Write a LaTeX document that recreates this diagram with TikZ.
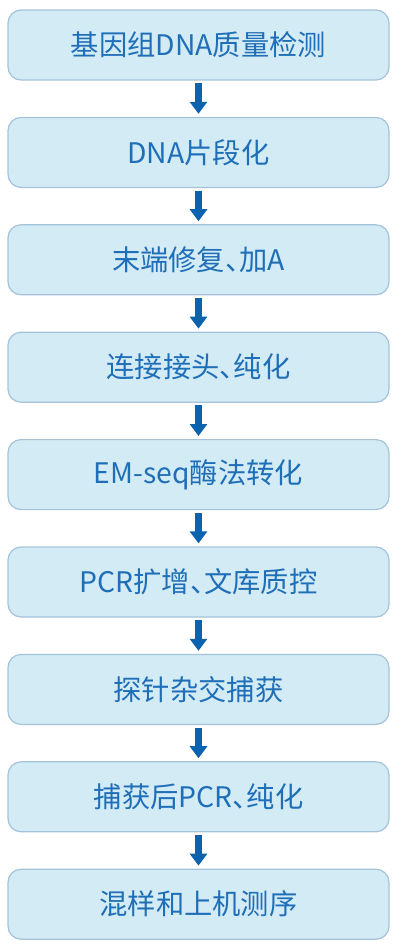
\documentclass[tikz,border=0pt]{standalone}
\usepackage{fontspec}
\setmainfont{Noto Sans CJK SC}
\usetikzlibrary{arrows.meta}
\definecolor{boxfill}{HTML}{D3EBF5}
\definecolor{boxline}{HTML}{A4C3DA}
\definecolor{txt}{HTML}{1E6EB8}
\definecolor{arr}{HTML}{0B62AE}
\newcommand{\dn}{{\addfontfeature{RawFeature=+halt}、}}
\tikzset{
  stepbox/.style={draw=boxline, line width=1.2pt, fill=boxfill, rounded corners=13pt,
    minimum width=381pt, minimum height=70pt, inner sep=0pt, text=txt,
    font=\fontsize{28.3pt}{33pt}\selectfont},
  flow/.style={draw=arr, line width=7.5pt, -{Triangle[width=17pt,length=12pt]},
    shorten <=2.5pt, shorten >=3pt}
}
\begin{document}
\begin{tikzpicture}[x=1pt,y=1pt]
\useasboundingbox (0,0) rectangle (404,-951);
\foreach \i/\t in {0/基因组DNA质量检测,1/DNA片段化,2/末端修复\dn 加A,3/连接接头\dn 纯化,4/EM-seq酶法转化,5/PCR扩增\dn 文库质控,6/探针杂交捕获,7/捕获后PCR\dn 纯化,8/混样和上机测序}{
  \node[stepbox] (b\i) at (198.5,{-45-107.4*\i}) {\t};
}
\foreach \i [evaluate=\i as \j using int(\i+1)] in {0,...,7}{
  \draw[flow] (b\i.south) -- (b\j.north);
}
\end{tikzpicture}
\end{document}
